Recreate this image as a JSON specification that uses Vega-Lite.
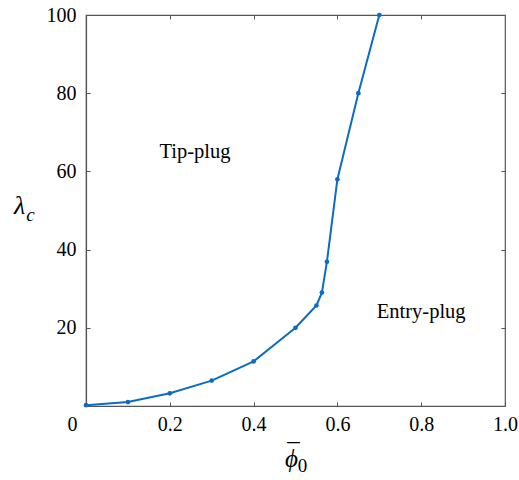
{
  "$schema": "https://vega.github.io/schema/vega-lite/v6.json",
  "autosize": "none",
  "padding": {"left": 86, "top": 15, "right": 14, "bottom": 74},
  "width": 419,
  "height": 391,
  "background": "white",
  "config": {
    "view": {"stroke": "#555555", "strokeWidth": 1.2},
    "axis": {
      "labelFont": "Liberation Serif",
      "labelFontSize": 20,
      "labelColor": "#000000",
      "titleFont": "Liberation Serif",
      "titleColor": "#000000",
      "titleFontWeight": "normal",
      "domainColor": "#555555",
      "domainWidth": 1.2,
      "tickColor": "#555555",
      "tickWidth": 1,
      "tickSize": -4,
      "grid": false
    }
  },
  "datasets": {
    "curve": [
      {"phi": 0.0, "lambda": 0.2},
      {"phi": 0.1, "lambda": 1.0},
      {"phi": 0.2, "lambda": 3.25},
      {"phi": 0.3, "lambda": 6.5},
      {"phi": 0.4, "lambda": 11.4},
      {"phi": 0.5, "lambda": 20.0},
      {"phi": 0.55, "lambda": 25.7},
      {"phi": 0.563, "lambda": 29.0},
      {"phi": 0.575, "lambda": 36.9},
      {"phi": 0.6, "lambda": 58.0},
      {"phi": 0.65, "lambda": 80.0},
      {"phi": 0.7, "lambda": 100.0}
    ],
    "regimes": [
      {"phi": 0.26, "lambda": 63.4, "label": "Tip-plug"},
      {"phi": 0.80, "lambda": 22.5, "label": "Entry-plug"}
    ]
  },
  "resolve": {"axis": {"x": "independent", "y": "independent"}},
  "layer": [
    {
      "data": {"name": "curve"},
      "mark": {
        "type": "line",
        "color": "#0a6cc4",
        "strokeWidth": 2,
        "point": {"filled": true, "size": 22, "color": "#0a6cc4"}
      },
      "encoding": {
        "x": {
          "field": "phi",
          "type": "quantitative",
          "scale": {"domain": [0, 1], "nice": false},
          "axis": {
            "orient": "bottom",
            "values": [0, 0.2, 0.4, 0.6, 0.8, 1.0],
            "labelExpr": "datum.value == 0 ? '0' : format(datum.value, '.1f')",
            "labelAlign": {"condition": {"test": "datum.value == 0", "value": "right"}, "value": "center"},
            "labelOffset": {"condition": {"test": "datum.value == 0", "value": -9}, "value": 0},
            "labelPadding": 12,
            "labelFlush": false,
            "title": ["¯", "ϕ"],
            "titleFontStyle": "italic",
            "titleFontSize": 25,
            "titleLineHeight": 6,
            "titleAlign": "center",
            "titleBaseline": "top",
            "titleX": 205,
            "titleY": 34
          }
        },
        "y": {
          "field": "lambda",
          "type": "quantitative",
          "scale": {"domain": [0, 100], "nice": false},
          "axis": {
            "orient": "left",
            "values": [20, 40, 60, 80, 100],
            "labelPadding": 14,
            "labelFlush": false,
            "title": "λ",
            "titleFontStyle": "italic",
            "titleFontSize": 26,
            "titleAngle": 0,
            "titleAlign": "center",
            "titleBaseline": "middle",
            "titleX": -67,
            "titleY": 190
          }
        }
      }
    },
    {
      "data": {"name": "regimes"},
      "mark": {
        "type": "text",
        "font": "Liberation Serif",
        "fontSize": 20.5,
        "color": "#000000",
        "align": "center",
        "baseline": "alphabetic"
      },
      "encoding": {
        "x": {"field": "phi", "type": "quantitative", "scale": {"domain": [0, 1], "nice": false},
              "axis": {"orient": "top", "values": [0.2, 0.4, 0.6, 0.8], "labels": false, "domain": false,
                       "title": "0", "titleFontSize": 19, "titleAlign": "center", "titleBaseline": "middle",
                       "titleX": 216, "titleY": 450}},
        "y": {"field": "lambda", "type": "quantitative", "scale": {"domain": [0, 100], "nice": false},
              "axis": {"orient": "right", "values": [20, 40, 60, 80], "labels": false, "domain": false,
                       "title": "c", "titleFontStyle": "italic", "titleFontSize": 19, "titleAngle": 0,
                       "titleAlign": "center", "titleBaseline": "middle", "titleX": -475, "titleY": 199}},
        "text": {"field": "label"}
      }
    }
  ]
}
